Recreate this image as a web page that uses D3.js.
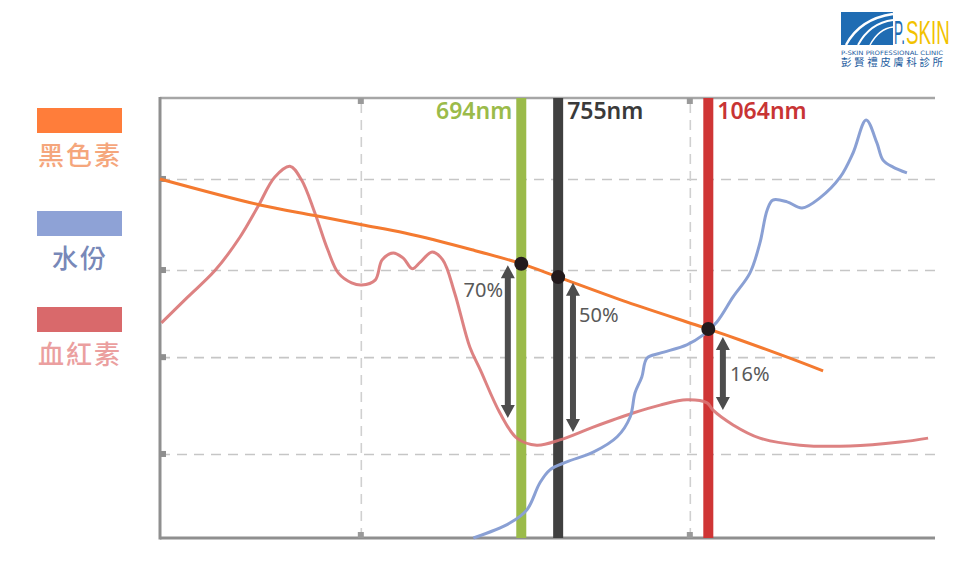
<!DOCTYPE html>
<html><head><meta charset="utf-8">
<script src="https://cdn.jsdelivr.net/npm/d3@7"></script>
<style>body{margin:0;background:#fff}svg{display:block}</style>
</head><body><svg id="c" width="966" height="564"></svg>
<script>
// ---------- data ----------
const xDomain = [304, 1786];            // wavelength (nm), log axis
const yDomain = [0, 100];               // relative absorption
const xGrid = [481, 1020];
const yGrid = [19.1, 41.1, 60.9, 81.6];

const seriesNames = ["黑色素", "水份", "血紅素"];

const melaninWl  = [304, 382, 433, 482, 532, 620, 695, 755, 884, 1064, 1144, 1282, 1383];
const melaninVal = [81.6, 75.7, 73.3, 71.2, 69.3, 65.5, 62.3, 59.3, 53.6, 47.5, 45.0, 40.9, 38.0];

const waterWl  = [622, 676, 703, 724, 741, 770, 818, 864, 890, 900, 914, 925, 953, 1013, 1051, 1085, 1126, 1170, 1197, 1217, 1233, 1274, 1318, 1373, 1438, 1481, 1526, 1564, 1586, 1623, 1675];
const waterVal = [0, 3.4, 6.4, 12.5, 15.5, 17.3, 19.5, 23.0, 27.5, 33.0, 36.6, 40.9, 42.0, 43.9, 46.1, 49.1, 54.8, 60.2, 67.0, 74.5, 76.8, 76.4, 75.0, 77.3, 82.0, 87.5, 95.0, 89.8, 85.9, 84.3, 83.0];

const hemoWl  = [305, 324, 345, 365, 380, 395, 409, 420, 433, 446, 457, 471, 482, 497, 505, 518, 530, 541, 551, 566, 580, 596, 617, 632, 661, 687, 719, 758, 818, 896, 953, 1013, 1061, 1075, 1126, 1197, 1312, 1471, 1649, 1758];
const hemoVal = [48.9, 54.8, 60.9, 68.4, 75.2, 82.0, 84.5, 81.4, 73.9, 65.5, 60.2, 58.0, 57.5, 58.6, 63.2, 64.8, 63.6, 61.2, 62.7, 65.0, 63.2, 55.7, 43.4, 38.2, 28.4, 22.7, 21.1, 22.3, 25.2, 28.4, 30.2, 31.4, 30.7, 29.1, 25.7, 22.7, 21.1, 20.9, 21.8, 22.7];

const laserWl     = [694, 755, 1064];
const laserLabels = ["694nm", "755nm", "1064nm"];
const laserPct    = ["70%", "50%", "16%"];
const arrowWl     = [673, 781, 1100];
const arrowTop    = [62.0, 58.0, 45.7];
const arrowBottom = [27.3, 24.1, 29.1];

// ---------- setup ----------
const svg = d3.select("#c");
const L = 160, R = 935, T = 98, B = 538;
const x = d3.scaleLog().domain(xDomain).range([L, R]);
const y = d3.scaleLinear().domain(yDomain).range([B, T]);
const FONT = "'Noto Sans','Open Sans','Noto Sans CJK TC',sans-serif";
const CJK = "'Noto Sans CJK TC','Noto Sans CJK SC',sans-serif";

// gridlines via axes
const gy = svg.append("g").attr("transform", `translate(${L},0)`)
  .call(d3.axisLeft(y).tickValues(yGrid).tickSize(-(R - L)).tickFormat(""));
gy.select(".domain").remove();
gy.selectAll(".tick line").attr("stroke", "#c6c6c6").attr("stroke-width", 1.6).attr("stroke-dasharray", "10,7");

const gx = svg.append("g").attr("transform", `translate(0,${B})`)
  .call(d3.axisBottom(x).tickValues(xGrid).tickSize(-(B - T)).tickFormat(""));
gx.select(".domain").remove();
gx.selectAll(".tick line").attr("stroke", "#d0d0d0").attr("stroke-width", 1.6).attr("stroke-dasharray", "10,7");

// frame
const frame = svg.append("g").attr("stroke", "#8f8f8f").attr("stroke-width", 3).attr("fill", "none");
frame.append("line").attr("x1", L).attr("x2", R).attr("y1", T).attr("y2", T).attr("stroke", "#a6a6a6").attr("stroke-width", 2.5);
frame.append("line").attr("x1", L).attr("x2", R).attr("y1", B).attr("y2", B);
frame.append("line").attr("x1", L).attr("x2", L).attr("y1", T - 1).attr("y2", B + 1.5);

// tick squares
svg.append("g").selectAll("rect").data(yGrid).join("rect")
  .attr("x", L).attr("y", d => y(d) - 3).attr("width", 6).attr("height", 6).attr("fill", "#8f8f8f");
svg.append("g").selectAll("rect").data(xGrid).join("rect")
  .attr("x", d => x(d) - 3).attr("y", T).attr("width", 6).attr("height", 6).attr("fill", "#9a9a9a");
svg.append("g").selectAll("rect").data(xGrid).join("rect")
  .attr("x", d => x(d) - 3).attr("y", B - 6).attr("width", 6).attr("height", 6).attr("fill", "#9a9a9a");

// laser bars
const barColors = ["#9bbb4a", "#404040", "#cf3535"];
svg.append("g").selectAll("rect").data(laserWl).join("rect")
  .attr("x", d => x(d) - 5).attr("y", T).attr("width", 10).attr("height", B - T)
  .attr("fill", (d, i) => barColors[i]);

// curves
const line = d3.line().x(d => x(d[0])).y(d => y(d[1])).curve(d3.curveCatmullRom.alpha(0.5));
const zip = (a, b) => a.map((v, i) => [v, b[i]]);
svg.append("path").datum(zip(hemoWl, hemoVal)).attr("d", line)
  .attr("fill", "none").attr("stroke", "#d97474").attr("stroke-width", 3).attr("opacity", 0.9);
svg.append("path").datum(zip(waterWl, waterVal)).attr("d", line)
  .attr("fill", "none").attr("stroke", "#8aa0d4").attr("stroke-width", 3);
svg.append("path").datum(zip(melaninWl, melaninVal)).attr("d", line)
  .attr("fill", "none").attr("stroke", "#f47a30").attr("stroke-width", 3);

// intersection dots
const melInterp = w => {
  const lx = Math.log(w);
  for (let i = 0; i < melaninWl.length - 1; i++) {
    const a = Math.log(melaninWl[i]), b = Math.log(melaninWl[i + 1]);
    if (lx >= a && lx <= b) return melaninVal[i] + (melaninVal[i + 1] - melaninVal[i]) * (lx - a) / (b - a);
  }
  return melaninVal[melaninVal.length - 1];
};
svg.append("g").selectAll("circle").data(laserWl).join("circle")
  .attr("cx", d => x(d)).attr("cy", d => y(melInterp(d))).attr("r", 7).attr("fill", "#231a1c");

// bar labels
const labelColors = ["#9bbb4a", "#3a3a3a", "#c83434"];
svg.append("g").selectAll("text").data(laserWl).join("text")
  .attr("x", (d, i) => i === 0 ? x(d) - 9 : x(d) + 9)
  .attr("y", 119)
  .attr("text-anchor", (d, i) => i === 0 ? "end" : "start")
  .attr("font-family", FONT).attr("font-size", 23).attr("font-weight", 600)
  .attr("fill", (d, i) => labelColors[i])
  .text((d, i) => laserLabels[i]);

// double arrows
const ag = svg.append("g").attr("fill", "#4d4d4d");
arrowWl.forEach((w, i) => {
  const cx = x(w), t = y(arrowTop[i]), b = y(arrowBottom[i]);
  const hw = 7, hl = 13, sw = 3;
  const p = d3.path();
  p.moveTo(cx, t); p.lineTo(cx + hw, t + hl); p.lineTo(cx + sw, t + hl);
  p.lineTo(cx + sw, b - hl); p.lineTo(cx + hw, b - hl); p.lineTo(cx, b);
  p.lineTo(cx - hw, b - hl); p.lineTo(cx - sw, b - hl); p.lineTo(cx - sw, t + hl);
  p.lineTo(cx - hw, t + hl); p.closePath();
  ag.append("path").attr("d", p.toString());
});

// percent labels
const pctPos = [[503, 297, "end"], [579, 322, "start"], [730, 381, "start"]];
svg.append("g").selectAll("text").data(laserPct).join("text")
  .attr("x", (d, i) => pctPos[i][0]).attr("y", (d, i) => pctPos[i][1])
  .attr("text-anchor", (d, i) => pctPos[i][2])
  .attr("font-family", FONT).attr("font-size", 20).attr("fill", "#595959")
  .text(d => d);

// legend
const legRect = ["#ff7d3a", "#8ea2d6", "#d9696b"];
const legText = ["#f5a67c", "#7888b8", "#eb9f9f"];
const legY = [108, 211, 307];
const lg = svg.append("g");
seriesNames.forEach((n, i) => {
  lg.append("rect").attr("x", 37).attr("y", legY[i]).attr("width", 85).attr("height", 25).attr("fill", legRect[i]);
  lg.append("text").attr("x", 80).attr("y", legY[i] + 57).attr("text-anchor", "middle")
    .attr("font-family", CJK).attr("font-size", 26).attr("font-weight", 500).attr("letter-spacing", 2)
    .attr("fill", legText[i]).text(n);
});

// logo
const lo = svg.append("g");
lo.append("rect").attr("x", 841).attr("y", 12).attr("width", 52).attr("height", 33).attr("fill", "#1f6cb3");
lo.append("path").attr("d", "M846,45 C856,26 872,17 893,14").attr("stroke", "#fff").attr("stroke-width", 2.5).attr("fill", "none");
lo.append("path").attr("d", "M858,45 C866,30 878,22 893,20").attr("stroke", "#fff").attr("stroke-width", 2).attr("fill", "none");
lo.append("path").attr("d", "M870,45 C876,34 884,28 893,27").attr("stroke", "#fff").attr("stroke-width", 1.5).attr("fill", "none");
const logoFont = "'Liberation Sans Narrow','Liberation Sans',sans-serif";
lo.append("g").attr("transform", "translate(894,44) scale(0.52,1.25)")
  .append("text").attr("font-family", logoFont)
  .attr("font-size", 26).attr("fill", "#1f6cb3").text("P.");
lo.append("g").attr("transform", "translate(906,44) scale(0.72,1.25)")
  .append("text").attr("font-family", logoFont)
  .attr("font-size", 26).attr("fill", "#f2c200").text("SKIN");
lo.append("text").attr("x", 841).attr("y", 54.5).attr("font-family", "'DejaVu Sans Condensed',sans-serif")
  .attr("font-size", 6).attr("textLength", 102).attr("lengthAdjust", "spacingAndGlyphs")
  .attr("fill", "#1d5c9e").text("P-SKIN PROFESSIONAL CLINIC");
lo.append("text").attr("x", 841).attr("y", 66).attr("font-family", CJK)
  .attr("font-size", 10.5).attr("textLength", 102).attr("lengthAdjust", "spacing")
  .attr("fill", "#1d5c9e").text("彭賢禮皮膚科診所");
</script></body></html>
